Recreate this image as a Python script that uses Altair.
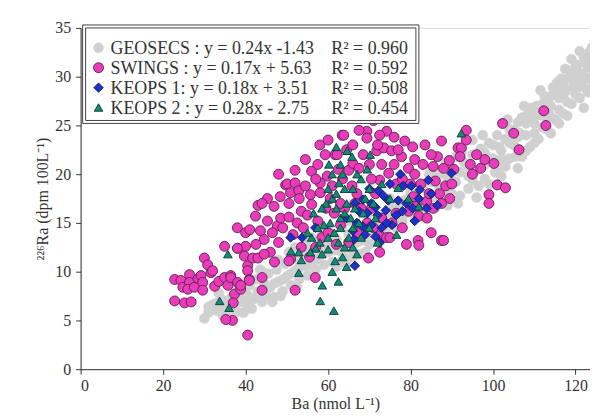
import altair as alt
import pandas as pd

# ---------------- data ----------------
geosecs = [(31,5.8),(32,6.6),(33,6.0),(34,7.2),(34.5,5.5),(35,6.4),(36,5.7),(36.5,7.3),(37,6.6),(38,5.9),
           (38.5,7.6),(39,6.9),(40,7.8),(40.5,6.5),(41,8.6),(42,7.2),(42.5,9.2),(43,8.0),(44,6.9),(44.5,8.8),
           (45,7.5),(45.5,9.8),(46,8.4),(47,7.4),(47.5,10.2),(48,9.0),(49,8.0),(49.5,10.8),(50,9.5),(51,8.6),
           (51.5,11.3),(52,10.1),(53,9.2),(53.5,11.8),(54,10.6),(55,9.6),(55.5,12.3),(56,11.2),(57,10.2),(57.5,12.7),
           (58,11.6),(59,10.7),(59.5,13.0),(60,12.0),(61,11.0),(62,13.3),(63,12.1),(64,11.4),(65,13.8),(66,12.6),
           (67,14.4),(68,13.2),(69,12.0),(70,14.8),(71,13.6),(72,15.4),(73,14.2),(74,16.0),(75,14.8),(76,16.6),
           (77,15.4),(78,17.2),(79,16.0),(80,18.0),(81,15.5),(82,17.0),(83,18.6),(84,16.2),(85,19.2),(86,17.6),
           (87,20.0),(88,18.2),(89,16.8),(90,20.6),(91,19.2),(92,17.8),(93,21.2),(94,19.8),(95,22.0),(96,20.4),
           (97,22.6),(98,21.0),(99,23.2),(100,21.6),(101,24.0),(102,22.4),(103,20.8),(104,24.6),(105,23.0),(106,25.3),
           (107,21.8),(108,24.0),(108.5,26.2),(109,22.8),(110,25.2),(110.5,27.0),(111,23.6),(112,26.0),(112.5,28.0),(113,24.6),
           (114,27.0),(114.5,28.9),(115,25.6),(116,27.8),(116.5,29.8),(117,26.2),(118,28.6),(118.5,30.6),(119,27.2),(120,29.4),
           (120.5,31.2),(121,27.8),(121.5,30.3),(122,32.0),(122.5,28.8),(123,31.0),(123.5,32.6),(124,29.6),
           (62,10.5),(66,11.5),(70,12.8),(74,14.0),(78,15.2),(82,16.0),(86,16.5),(90,18.0),(94,18.5),(98,19.5),
           (102,20.8),(65,15.2),(75,17.5),(85,20.5),(95,23.5),(60,14.2),(56,13.5),(52,12.5),(48,11.2),(44,10.0),
           (30,5.2),(33.5,7.8),(35.5,5.0),(37.5,8.2),(39.5,5.8),(41.5,6.2),(43.5,10.2),(46.5,6.9),(48.5,7.5),(50.5,12.0),
           (52.5,8.5),(54.5,13.0),(56.5,9.5),(58.5,14.0),(61.5,12.2),(63.5,14.6),(64.5,10.8),(67.5,11.8),(69.5,15.8),(72.5,13.0),
           (76.5,14.5),(79.5,18.8),(80.5,16.8),(83.5,15.5),(84.5,20.0),(87.5,17.2),(88.5,21.2),(91.5,17.0),(92.5,22.4),(96.5,18.8),
           (97.5,24.0),(100.5,20.2),(101.5,22.8),(103.5,25.6),(105.5,21.8),(106.5,24.2),(107.5,27.0),(109.5,25.8),(111.5,28.6),(113.5,26.2),
           (115.5,29.4),(116,25.2),(117.5,30.8),(119.5,29.0),(119,31.8),(121,32.6),(122,26.8),(123,29.9),(124,31.8),(124,33.0),
           (118,26.0),(114,24.2),(110,23.2),(106,22.6),(120,28.2),(122.5,31.5),(117,28.0),(113,27.5),(109,26.8),(105,24.5),
           (96,17.6),(99,19.0),(102,19.8),(104,21.6),(106,20.6),(108,22.4),(110,24.2),(112,24.8),(114,25.8),(116,26.6),
           (118,27.4),(120,30.2),(121,29.0),(123,28.4),(124,30.8),(115,28.2),(117,29.2),(119,30.2),(111,26.2),(107,25.8),
           (103,23.6),(99,21.6),(95,19.4),(91,21.8),(89,19.6),(87,18.6),(85,17.6),(83,16.8),(81,17.8),(79,17.4),
           (77,16.6),(75,16.0),(73,15.6),(71,14.8),(69,13.8),(67,13.0),(65,12.4),(63,11.0),(61,12.6),(59,12.2),
           (57,11.2),(55,10.6),(53,10.4),(51,9.8),(49,9.2),(47,8.8),(45,8.6),(43,7.4),(41,7.4),(39,7.4),
           (37,5.4),(35,7.0),(33,6.8),(31,6.4),(100,23.0),(104,23.2),(108,25.2),(112,27.2),(116,28.8),(120,31.0),
           (122,29.8),(124,32.2),(118,29.8),(114,28.0),(110,25.8),(106,23.8),(102,21.6),(98,22.2),(94,20.8),(90,19.4),
           (88,17.0),(92,20.2)]

swings = [(22.8,9.2),(22.8,7.0),(24.3,9.1),(24.8,8.4),(25.2,6.8),(26.4,9.7),(26.4,8.9),(26.0,8.2),(26.8,6.9),(27.6,8.4),
          (28.5,9.3),(29.2,9.6),(29.6,8.9),(29.6,8.1),(30.0,11.4),(30.8,10.7),(31.6,9.9),(32.0,10.1),(32.5,8.5),(33.5,9.0),
          (34.9,12.6),(34.9,9.4),(35.7,8.6),(36.4,9.6),(36.4,9.4),(37.3,7.7),(38.1,12.4),(38.1,8.9),(38.8,8.2),(38.8,8.6),
          (37.0,6.8),(36.8,5.0),(35.2,5.1),(40.0,12.6),(39.7,11.6),(40.5,10.6),(40.5,10.1),(41.7,11.4),(40.9,9.2),(40.9,9.1),
          (43.0,11.4),(44.0,9.4),(44.0,8.1),(40.5,3.5),(38.0,14.5),(38.0,12.4),(40.0,14.0),(41.0,14.3),(42.4,15.7),(43.6,14.2),
          (44.5,13.3),(45.3,15.2),(45.3,17.5),(46.9,16.7),(47.7,14.7),(48.4,17.7),(48.5,15.5),(49.7,18.9),(50.1,19.0),(50.5,17.0),
          (50.9,18.1),(50.9,11.3),(50.5,11.1),(52.0,20.4),(52.0,19.1),(52.0,8.1),(52.9,18.3),(49.0,14.5),(50.5,15.6),(51.5,13.8),
          (52.5,15.0),(53.5,16.2),(54.0,14.5),(55.0,15.8),(55.7,17.9),(56.0,16.9),(56.9,9.4),(57.5,15.2),(58.1,18.1),(58.1,19.1),
          (59.3,22.0),(59.8,19.8),(59.5,16.5),(60.5,17.5),(61.7,22.0),(62.2,22.0),(61.0,18.8),(63.4,24.0),(63.8,24.0),(64.5,22.5),
          (65.0,20.4),(66.0,21.1),(67.5,20.6),(65.8,18.8),(66.5,17.0),(67.0,18.0),(65.0,13.0),(69.4,24.4),(69.4,23.7),(69.8,11.4),
          (71.8,22.4),(73.5,22.7),(75.4,22.4),(74.2,24.4),(72.5,19.4),(74.7,20.1),(72.5,13.7),(74.2,13.5),(75.0,13.5),(77.8,21.8),
          (78.6,23.4),(79.5,20.6),(81.0,21.5),(83.0,21.0),(85.5,20.8),(80.7,17.7),(81.5,16.7),(83.9,17.2),(79.5,16.2),(82.0,15.7),
          (81.8,13.2),(82.0,12.7),(86.0,19.3),(87.0,18.0),(88.5,18.8),(89.5,17.5),(87.5,17.0),(88.0,20.6),(89.4,21.4),(87.5,23.4),
          (87.5,13.2),(88.0,13.2),(91.5,22.7),(92.3,22.7),(93.5,24.5),(93.5,23.5),(92.0,21.8),(94.5,21.0),(96.0,22.0),(97.0,20.6),
          (95.0,20.0),(98.0,21.5),(100.2,21.1),(101.0,18.9),(103.0,18.6),(99.0,17.9),(99.0,17.0),(102.3,25.2),(105.0,24.2),(106.3,22.5),
          (112.3,26.5),(112.8,25.0),
          (54.5,21.5),(56.0,20.3),(57.5,21.0),(58.0,23.0),(60.0,23.5),(62.5,20.5),(63.5,19.5),(61.5,16.0),(64.0,16.5),(66.0,23.0),
          (67.5,24.5),(68.5,22.0),(70.0,21.0),(70.5,19.5),(71.5,18.0),(68.0,16.5),(69.5,15.0),(70.5,16.5),(72.0,23.0),(73.0,21.0),
          (76.0,21.0),(76.5,19.0),(77.0,22.5),(78.0,19.5),(76.5,16.0),(75.5,15.0),(78.0,14.5),(80.0,19.0),(81.0,20.0),(82.5,19.0),
          (84.5,18.0),(84.0,15.5),(85.0,14.0),(85.5,16.5),(86.5,21.8),(90.0,19.0),(90.5,20.5),(73.0,15.5),(71.0,14.5),(67.0,14.0),
          (63.0,14.8),(62.0,12.8),(58.5,13.5),(57.0,12.5),(55.5,11.5),(53.5,12.5),(48.0,13.0),(46.0,12.0),(47.0,11.0),(44.5,11.8),
          (46.5,14.0),(42.5,12.8),(43.0,16.8),(44.0,17.0),(48.0,20.0),(53.0,17.5),(54.5,18.8),(57.0,19.5),(63.0,17.0),(60.0,14.0),
          (71.0,25.5),(72.5,24.0),(76.0,23.8),(80.5,22.8),(83.5,23.0),(85.0,22.0),(79.0,12.8),(72.5,12.0)]

keops1 = [(84.3,19.4),(80.2,18.8),(82.2,18.4),(78.2,18.8),(83.9,16.5),(77.0,17.3),(79.0,17.0),(72.2,18.3),(73.4,17.8),(74.6,17.3),
          (68.5,17.4),(70.5,17.0),(71.5,16.6),(66.5,17.0),(67.5,16.2),(69.5,16.0),(72.0,15.8),(74.0,16.3),(76.5,15.8),(78.0,16.2),
          (80.5,16.5),(82.0,17.5),(85.0,18.0),(67.0,15.0),(68.5,14.6),(70.5,14.8),(73.0,14.5),(75.5,14.8),(66.0,14.2),(69.0,13.8),
          (71.5,13.6),(74.2,15.0),(66.3,13.3),(89.9,20.1),(50.9,13.5),(53.7,13.5),(56.9,14.5),(66.5,10.6),(75.0,19.0),(77.5,20.0),
          (70.0,18.5),(81.0,15.2),(86.5,16.8),(64.5,15.5),(72.5,13.0)]

keops2 = [(33.7,7.0),(36.0,6.3),(35.7,11.8),(51.0,12.1),(52.9,12.0),(52.9,9.9),(58.6,8.6),(58.1,7.0),(61.4,6.0),(61.7,11.1),
          (57.0,12.4),(58.5,11.8),(60.0,12.3),(60.2,21.0),(62.6,19.1),(63.5,20.0),(61.0,17.5),(62.0,16.5),(63.0,15.5),(60.5,15.0),
          (61.5,14.0),(62.5,13.0),(64.0,12.5),(63.5,11.5),(60.0,13.5),(59.0,14.8),(58.0,13.0),(56.0,13.5),(55.7,12.0),(57.5,14.5),
          (62.0,18.0),(64.0,18.5),(64.6,22.4),(65.8,21.8),(64.5,17.0),(64.0,16.0),(63.0,14.5),(65.0,13.5),(66.0,12.5),(65.5,15.5),
          (66.5,16.5),(68.0,19.5),(69.5,20.5),(70.2,22.0),(70.0,18.5),(69.0,17.5),(68.5,16.0),(67.5,15.0),(66.0,18.5),(67.0,20.0),
          (71.0,17.0),(71.5,15.5),(70.0,14.5),(68.0,13.5),(72.0,13.0),(77.0,18.6),(79.5,17.5),(82.0,16.7),(76.6,13.8),(92.3,24.2),
          (63.0,21.0),(61.0,20.0),(59.5,17.0),(60.0,18.5),(62.0,22.8),(73.0,19.0),(75.0,17.5),(56.5,16.0),(55.0,14.0),(58.5,16.5),
          (66.0,14.5),(67.0,11.8),(64.5,10.5),(61.0,10.0),(62.5,9.0),(53.5,11.2)]

equations = ["GEOSECS : y = 0.24x -1.43", "SWINGS : y = 0.17x + 5.63",
             "KEOPS 1: y = 0.18x + 3.51", "KEOPS 2 : y = 0.28x - 2.75"]
r_squared = ["R² = 0.960", "R² = 0.592", "R² = 0.508", "R² = 0.454"]
x_ticks = [0, 20, 40, 60, 80, 100, 120]
y_ticks = [0, 5, 10, 15, 20, 25, 30, 35]

# ---------------- styling ----------------
FONT = "Liberation Serif"
styles = [
    dict(shape="circle", fill="#d0d0d0", stroke="#d0d0d0", strokeWidth=0.5, size=100),
    dict(shape="circle", fill="#ea3cb9", stroke="#5a2050", strokeWidth=0.9, size=100),
    dict(shape="diamond", fill="#1f2fcc", stroke="#121a55", strokeWidth=0.9, size=90),
    dict(shape="triangle-up", fill="#148a78", stroke="#0a3a33", strokeWidth=0.9, size=75),
]

xs = alt.Scale(domain=[0, 123.5], nice=False)
ys = alt.Scale(domain=[0, 35], nice=False)
xaxis = alt.Axis(values=x_ticks, title="Ba (nmol L⁻¹)", grid=False, tickSize=5,
                 labelFont=FONT, titleFont=FONT, labelFontSize=16, titleFontSize=16,
                 titleFontWeight="normal", labelColor="#333", titleColor="#333",
                 domainColor="#333", tickColor="#333", labelPadding=3, titlePadding=3)
yaxis = alt.Axis(values=y_ticks, title="²²⁶Ra (dpm 100L⁻¹)", grid=False, tickSize=5,
                 labelFont=FONT, titleFont=FONT, labelFontSize=16, titleFontSize=16,
                 titleFontWeight="normal", labelColor="#333", titleColor="#333",
                 domainColor="#333", tickColor="#333", labelPadding=5, titlePadding=4)

layers = []
for i, pts in enumerate([geosecs, swings, keops1, keops2]):
    df = pd.DataFrame(pts, columns=["x", "y"])
    st = styles[i]
    layers.append(alt.Chart(df).mark_point(filled=True, opacity=1, clip=True, **st).encode(
        x=alt.X("x:Q", scale=xs, axis=xaxis),
        y=alt.Y("y:Q", scale=ys, axis=yaxis)))

# ---------------- legend box ----------------
box_df = pd.DataFrame({"k": [0]})
outer = alt.Chart(box_df).mark_rect(fill="white", stroke="#444", strokeWidth=1).encode(
    x=alt.value(2), x2=alt.value(340), y=alt.value(-3), y2=alt.value(96))
inner = alt.Chart(box_df).mark_rect(fill="white", stroke="#444", strokeWidth=1).encode(
    x=alt.value(5), x2=alt.value(337), y=alt.value(0), y2=alt.value(93))
layers += [outer, inner]

row_y = [20, 40, 60, 80]
for i in range(4):
    st = styles[i]
    d = pd.DataFrame({"eq": [equations[i]], "r2": [r_squared[i]]})
    layers.append(alt.Chart(d).mark_point(filled=True, opacity=1, **st).encode(
        x=alt.value(18), y=alt.value(row_y[i])))
    layers.append(alt.Chart(d).mark_text(align="left", baseline="middle", font=FONT,
                                         fontSize=18, color="#333").encode(
        x=alt.value(30), y=alt.value(row_y[i] + 1), text="eq:N"))
    layers.append(alt.Chart(d).mark_text(align="left", baseline="middle", font=FONT,
                                         fontSize=18, color="#333").encode(
        x=alt.value(252), y=alt.value(row_y[i] + 1), text="r2:N"))

chart = alt.layer(*layers).properties(
    width=512, height=343,
    padding={"left": 27, "top": 11, "right": 0, "bottom": 0},
).configure_view(stroke=None).configure(background="white")

chart.save("out.html", embed_options={"renderer": "svg", "actions": False})
